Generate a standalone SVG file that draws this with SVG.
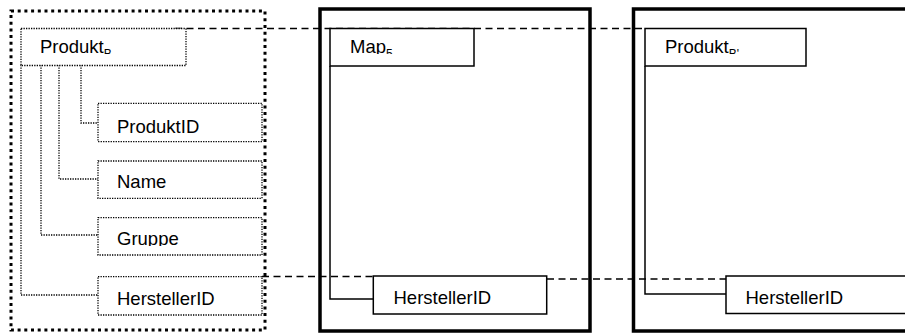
<svg xmlns="http://www.w3.org/2000/svg" width="905" height="334" viewBox="0 0 905 334">
<style>
  .bg{fill:#fff}
  .outer-dot{fill:none;stroke:#000;stroke-width:3;stroke-dasharray:3 3.7}
  .thin-dot{fill:none;stroke:#000;stroke-width:1.3;stroke-dasharray:1.3 1.2}
  .thick{fill:none;stroke:#000;stroke-width:3.5}
  .box{fill:#fff;stroke:#000;stroke-width:1.5}
  .dotbox{fill:#fff;stroke:#000;stroke-width:1.3;stroke-dasharray:1.3 1.2}
  .link{fill:none;stroke:#000;stroke-width:1.5}
  .dash{fill:none;stroke:#000;stroke-width:1.5;stroke-dasharray:7 4.5}
  text{font-family:"Liberation Sans",Arial,sans-serif;font-size:18.5px;fill:#000}
  .sub{font-size:12px}
</style>
<defs>
  <clipPath id="clipTop"><rect x="0" y="20" width="905" height="34"/></clipPath>
  <clipPath id="clipGruppe"><rect x="0" y="218" width="300" height="28"/></clipPath>
</defs>
<rect class="bg" x="0" y="0" width="905" height="334"/>

<g id="quelle">
  <rect class="outer-dot" x="11" y="11" width="254" height="319"/>
</g>
<g id="map-container">
  <rect class="thick" x="320" y="9" width="270" height="322"/>
</g>
<g id="ziel">
  <rect class="thick" x="633.5" y="9" width="290" height="322"/>
</g>

<g id="connectors">
  <path class="thin-dot" d="M21 65 V295 H98"/>
  <path class="thin-dot" d="M41 65 V235 H98"/>
  <path class="thin-dot" d="M59 65 V179 H98"/>
  <path class="thin-dot" d="M81 65 V123 H98"/>
  <path class="link" d="M330 66 V299 H373"/>
  <path class="link" d="M645 66 V294 H726"/>
  <path class="dash" d="M175 28.5 H645"/>
  <path class="dash" d="M262 276.5 H373"/>
  <path class="dash" d="M547 279 H726"/>
</g>

<g id="produktB">
  <rect class="dotbox" x="21" y="28.5" width="165" height="37"/>
  <text x="40" y="53.3" clip-path="url(#clipTop)">Produkt<tspan class="sub" dy="4.8">B</tspan></text>
</g>
<g id="produktID">
  <rect class="dotbox" x="98" y="103.3" width="164" height="38.4"/>
  <text x="117" y="132.5">ProduktID</text>
</g>
<g id="name">
  <rect class="dotbox" x="98" y="161" width="164" height="37.3"/>
  <text x="117" y="188.3">Name</text>
</g>
<g id="gruppe">
  <rect class="dotbox" x="98" y="217.7" width="164" height="37.3"/>
  <text x="117" y="245.3" clip-path="url(#clipGruppe)">Gruppe</text>
</g>
<g id="herstellerID-B">
  <rect class="dotbox" x="98" y="276.7" width="164" height="38.3"/>
  <text x="117" y="305">HerstellerID</text>
</g>

<g id="map5">
  <rect class="box" x="330" y="28.5" width="144" height="37.5"/>
  <text x="350" y="53.3" clip-path="url(#clipTop)">Map<tspan class="sub" dy="4.8">5</tspan></text>
</g>
<g id="herstellerID-map">
  <rect class="box" x="373.3" y="276" width="173.4" height="38"/>
  <text x="393.5" y="304">HerstellerID</text>
</g>

<g id="produktB2">
  <rect class="box" x="645" y="28.5" width="161" height="37.5"/>
  <text x="665" y="53.3" clip-path="url(#clipTop)">Produkt<tspan class="sub" dy="4.8">B'</tspan></text>
</g>
<g id="herstellerID-B2">
  <rect class="box" x="726" y="276" width="200" height="37.5"/>
  <text x="745.5" y="303.5">HerstellerID</text>
</g>
</svg>
